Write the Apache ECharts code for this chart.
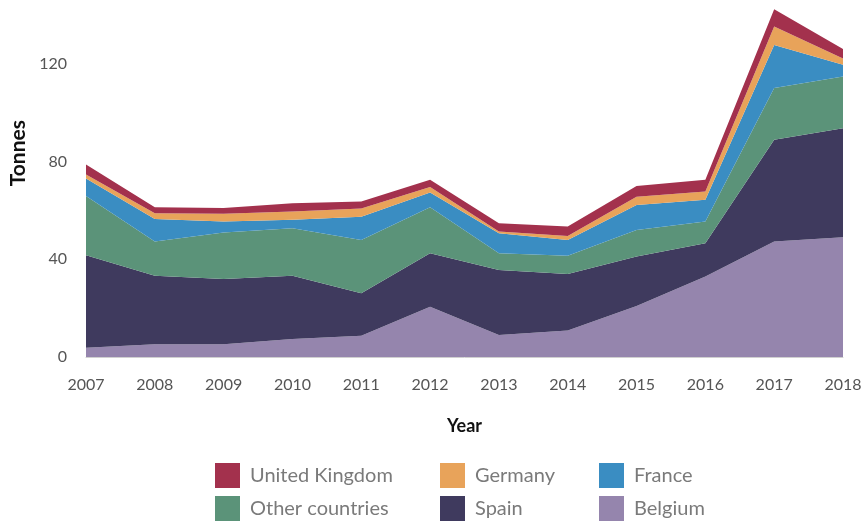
<!DOCTYPE html>
<html>
<head>
<meta charset="utf-8">
<script src="https://cdn.jsdelivr.net/npm/echarts@6/dist/echarts.min.js"></script>
<style>html,body{margin:0;padding:0;background:#fff}#c{width:867px;height:521px}</style>
</head>
<body>
<div id="c"></div>
<script>
const years = ['2007','2008','2009','2010','2011','2012','2013','2014','2015','2016','2017','2018'];
const belgium = [3.8, 5.2, 5.2, 7.4, 8.7, 20.6, 9.0, 10.8, 20.9, 32.9, 47.2, 49.0];
const spain = [37.8, 28.0, 26.7, 25.8, 17.4, 21.8, 26.6, 23.2, 20.2, 13.6, 41.7, 44.6];
const otherCountries = [24.3, 14.0, 19.0, 19.5, 21.8, 18.9, 6.8, 7.4, 10.9, 8.9, 21.1, 21.2];
const france = [7.1, 9.3, 4.5, 3.4, 9.5, 6.0, 8.2, 6.5, 10.2, 8.9, 17.6, 4.8];
const germany = [1.7, 2.3, 3.2, 3.4, 3.4, 2.2, 0.7, 1.6, 3.4, 3.4, 7.6, 2.5];
const unitedKingdom = [4.1, 2.5, 2.4, 3.4, 2.8, 3.0, 3.4, 3.9, 4.4, 4.8, 7.1, 3.9];
const yTicks = [0, 40, 80, 120];

const colors = {
  'Belgium': '#9585ad',
  'Spain': '#3f3a5e',
  'Other countries': '#5b9379',
  'France': '#3a8dc2',
  'Germany': '#e8a35a',
  'United Kingdom': '#a3314d'
};
const seriesData = [
  ['Belgium', belgium],
  ['Spain', spain],
  ['Other countries', otherCountries],
  ['France', france],
  ['Germany', germany],
  ['United Kingdom', unitedKingdom]
];
const font = 'Lato, "Open Sans", sans-serif';
const legendText = {color: '#7a7a7a', fontSize: 20, fontFamily: font, padding: [0, 0, 0, 5]};
function legendItem(left, top, name) {
  return {
    orient: 'horizontal', left: left, top: top, padding: 0,
    itemWidth: 25, itemHeight: 25, icon: 'rect',
    data: [name], textStyle: legendText, selectedMode: false
  };
}
const chart = echarts.init(document.getElementById('c'), null, {renderer: 'canvas'});
chart.setOption({
  animation: false,
  grid: {left: 86, right: 24, top: 5, bottom: 164},
  legend: [
    legendItem(215, 463, 'United Kingdom'),
    legendItem(215, 496, 'Other countries'),
    legendItem(440, 463, 'Germany'),
    legendItem(440, 496, 'Spain'),
    legendItem(599, 463, 'France'),
    legendItem(599, 496, 'Belgium')
  ],
  graphic: [{
    type: 'text', left: 8, top: 120, rotation: Math.PI / 2,
    style: {text: 'Tonnes', font: 'bold 21px ' + font, fill: '#111'}
  }],
  xAxis: {
    type: 'category', data: years, boundaryGap: false,
    axisLine: {lineStyle: {color: '#d0d0d0', width: 1}},
    axisTick: {show: false},
    axisLabel: {color: '#555', fontSize: 16, fontFamily: font, margin: 20},
    name: 'Year', nameLocation: 'middle', nameGap: 60,
    nameTextStyle: {fontWeight: 'bold', fontSize: 18, color: '#111', fontFamily: font}
  },
  yAxis: {
    type: 'value', min: 0, max: 144, interval: 40,
    axisLine: {show: false}, axisTick: {show: false}, splitLine: {show: false},
    axisLabel: {
      color: '#555', fontSize: 16, fontFamily: font, margin: 19, showMaxLabel: false,
      formatter: v => yTicks.includes(v) ? String(v) : ''
    }
  },
  series: seriesData.map(([name, data]) => ({
    name: name, type: 'line', stack: 'total', data: data,
    showSymbol: false, symbol: 'none',
    lineStyle: {width: 0},
    itemStyle: {color: colors[name]},
    areaStyle: {color: colors[name], opacity: 1}
  }))
});
</script>
</body>
</html>
